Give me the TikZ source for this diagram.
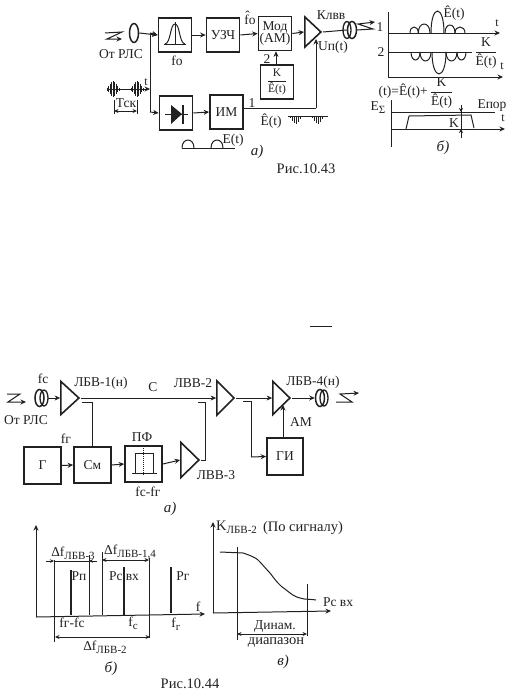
\documentclass[tikz,border=0pt]{standalone}
\usepackage{fontspec}
\setmainfont{Liberation Serif}
\usetikzlibrary{arrows.meta,shapes.geometric}
\definecolor{ink}{gray}{0.13}
\newcommand{\lsub}[1]{\raisebox{-3pt}{\fontsize{11}{12}\selectfont #1}}
\newcommand{\fracE}{$\displaystyle\frac{\mbox{K}}{\mbox{Ê(t)}}$}
\newcommand{\bumpup}[4]{\draw[thinl] (#1,#3) .. controls (#1,#3-1.33*#4) and (#2,#3-1.33*#4) .. (#2,#3);}
\newcommand{\bumpdn}[4]{\draw[thinl] (#1,#3) .. controls (#1,#3+1.33*#4) and (#2,#3+1.33*#4) .. (#2,#3);}
\newcommand{\burst}[2]{\foreach \d/\h in {-6/1.5,-4.5/3,-3/5,-1.5/7,0/8,1.5/7,3/5,4.5/3,6/1.5}{\draw[line width=.6pt,ink] (#1+\d,#2-\h) -- (#1+\d,#2+\h);}}
\tikzset{
  x=1pt,y=-1pt,
  blk/.style={draw=ink,line width=1.7pt,minimum width=33pt,minimum height=34pt,inner sep=0pt,font=\fontsize{13.5}{14}\selectfont,text=ink,align=center},
  thinl/.style={draw=ink,line width=1pt},
  arr/.style={thinl,-{Stealth[length=5.5pt,width=5pt]}},
  darr/.style={thinl,{Stealth[length=4.5pt,width=4pt]}-{Stealth[length=4.5pt,width=4pt]}},
  thick axis/.style={draw=ink,line width=1.8pt},
  amp/.style={draw=ink,fill=white,line width=1.6pt,isosceles triangle,isosceles triangle stretches,inner sep=0pt,minimum height=18pt,minimum width=33pt,anchor=apex,shape border rotate=0},
  ant/.style={draw=ink,line width=1.5pt,ellipse,minimum width=9pt,minimum height=19pt,inner sep=0pt},
  lab/.style={inner sep=0pt,font=\fontsize{13.5}{14}\selectfont,text=ink},
  biglab/.style={inner sep=0pt,font=\fontsize{14.5}{15}\selectfont,text=ink},
  slab/.style={inner sep=0pt,font=\fontsize{12}{13}\selectfont,text=ink},
  ital/.style={inner sep=0pt,font=\fontsize{15}{16}\selectfont\itshape,text=ink},
}
\begin{document}
\begin{tikzpicture}
\useasboundingbox (0,0) rectangle (518,696);
\fill[white] (0,0) rectangle (518,696);
% ---------- Fig 10.43 a
\node[blk] (bp) at (175,35) {};
\node[blk] (uz) at (223,35) {УЗЧ};
\node[blk] (mod) at (275,33.5) {Мод\\[-2pt](АМ)};
\node[blk,font=\fontsize{11.5}{12}\selectfont] (kb) at (277,82) {\fracE};
\node[blk] (dio) at (176,113) {};
\node[blk] (im) at (226.5,112) {ИМ};
\node[amp,minimum height=16pt,minimum width=30pt] (tr) at (323,32) {};
\node[ant] (a1) at (134,33) {};
\node[ant,minimum height=17pt] (a2) at (352,30) {};
\draw[thinl,line width=1.3pt] (347,30) ellipse (4pt and 8.5pt);
\coordinate (j1) at (150,33);
\coordinate (c1) at (150,112);
\draw[arr] (a1.east) -- (bp.west);
\draw[arr] (j1) -- (bp.west);
\draw[thinl] (j1) -- (c1);
\draw[arr] (c1) -- (dio.west);
\draw[arr] (bp.east) -- (uz.west);
\draw[arr] (uz.east) -- (mod.west);
\draw[arr] (mod.east) -- (tr.lower side);
\draw[thinl] (tr.apex) -- (a2.west);
\coordinate (kt) at (276,65);
\draw[arr] (kt) -- (kt |- mod.south);
\draw[arr] (dio.east) -- (im.west);
\coordinate (c2) at (316,108);
\coordinate (c3) at (316,39);
\draw[thinl] (im.east |- c2) -- (c2);
\draw[arr] (c2) -- (c3);
% band-pass icon
\draw[thinl] (164,44) -- (186,44);
\draw[thinl] (175,22) -- (175,44);
\draw[thinl] (165,44) .. controls (171,43) and (170,24) .. (175,24) .. controls (180,24) and (179,43) .. (185,44);
% diode icon
\draw[thinl] (165,114) -- (188,114);
\fill[ink] (171,105) -- (182,114) -- (171,124) -- cycle;
\draw[line width=1.6pt,ink] (183,105) -- (183,124);
% input signal
\coordinate (s0) at (107,89);
\coordinate (s1) at (150,89);
\draw[arr] (s0) -- (s1);
\burst{113}{89}
\burst{137}{89}
\coordinate (t1) at (114,111);
\coordinate (t2) at (137,111);
\draw[thinl] (114,100) -- (114,114);
\draw[thinl] (137,100) -- (137,114);
\draw[darr] (t1) -- (t2);
% zigzags
\draw[arr] (105,33) -- (122,32) -- (107,39) -- (122,39);
\draw[arr] (357,30) -- (373,29) -- (358,24) -- (375,22);
% output pulses
\draw[thinl] (288,116) -- (328,116);
\foreach \x/\h in {290/2,292/5,294/7,296/8,298/6,300/3,312/2,314/5,316/7,318/8,320/6,322/3}{\draw[line width=.6pt,ink] (\x,116) -- (\x,116+\h);}
% envelope
\draw[thinl] (182,148) -- (235,148);
\bumpup{182}{194}{148}{8}
\bumpup{211}{223}{148}{8}
\node[lab] (l1) at (121,54) {От РЛС};
\node[lab] (l2) at (177,61) {fо};
\node[lab] (l3) at (250,18) {f̂о};
\node[lab] (l4) at (331,15) {Клвв};
\node[lab] (l5) at (333,47) {Uп(t)};
\node[lab] (l6) at (267,59) {2};
\node[lab] (l7) at (252,103) {1};
\node[slab] (l8) at (146,82) {t};
\node[lab] (l9) at (126,103) {Тск};
\node[lab] (l10) at (271,121) {Ê(t)};
\node[lab] (l11) at (233,140) {E(t)};
\node[ital] (l12) at (257,152) {а)};
\node[biglab] (l13) at (306,169) {Рис.10.43};
% ---------- Fig 10.43 b
\coordinate (b0) at (388,12);
\coordinate (b1) at (388,78);
\draw[thinl] (b0) -- (b1);
\draw[arr] (388,33) -- (500,33);
\draw[thinl] (388,52) -- (472,52);
\draw[arr] (388,77) -- (503,77);
\bumpup{410}{418.3}{33}{6}
\bumpup{418.3}{430}{33}{9}
\bumpup{431}{444}{33}{22}
\bumpup{445}{455}{33}{8}
\bumpup{455}{465}{33}{6}
\bumpdn{411}{420}{52}{8}
\bumpdn{420}{431}{52}{9}
\bumpdn{432}{446}{52}{22}
\bumpdn{446}{457}{52}{9}
\bumpdn{457}{466}{52}{8}
\node[lab] (m1) at (380,27) {1};
\node[lab] (m2) at (381,52) {2};
\node[slab] (m3) at (497,23) {t};
\node[slab] (m4) at (502,66) {t};
\node[lab] (m5) at (454,13) {Ê(t)};
\node[lab] (m6) at (486,53) {\fracE};
\node[lab] (m7) at (416,93) {(t)=Ê(t)+\,\fracE};
\node[lab] (m8) at (378,108) {E\lsub{Σ}};
\draw[thinl] (391,100) -- (391,147);
\draw[arr] (391,129) -- (505,129);
\draw[thinl] (391,112) -- (495,112);
\draw[thinl] (406,129) -- (409,116) -- (471,115) -- (474,128);
\coordinate (k1) at (461,107);
\coordinate (k2) at (461,137);
\draw[thinl] (k1) -- (k2);
\draw[thinl,-{Stealth[length=4pt,width=4pt]}] (461,105) -- (461,112);
\draw[thinl,-{Stealth[length=4pt,width=4pt]}] (461,138) -- (461,129);
\node[lab] (m9) at (454,123) {K};
\node[lab] (m10) at (492,106) {Епор};
\node[slab] (m11) at (503,118) {t};
\node[ital] (m12) at (443,148) {б)};
% stray rule
\draw[line width=1pt,ink] (310,326) -- (332,326);
% ---------- Fig 10.44 a
\node[ant,minimum height=17pt] (c1a) at (39.5,398) {};
\draw[thinl,line width=1.3pt] (44,398) ellipse (4pt and 8pt);
\node[amp,minimum width=33pt] (t1a) at (81,398) {};
\node[amp,minimum height=17pt,minimum width=34pt] (t2a) at (236,398) {};
\node[amp,minimum height=17pt,minimum width=33pt] (t4a) at (292,398) {};
\node[amp,minimum height=18pt,minimum width=35pt] (t3a) at (201,460) {};
\node[ant,minimum height=17pt] (c2a) at (320,398) {};
\draw[thinl,line width=1.3pt] (324,398) ellipse (4pt and 8pt);
\node[blk,minimum width=37pt,minimum height=37pt] (g) at (42.5,465.5) {Г};
\node[blk,minimum width=37pt,minimum height=36pt] (sm) at (92.5,465) {См};
\node[blk,minimum width=37pt,minimum height=36pt] (pf) at (143.5,464) {};
\node[blk,minimum width=36pt,minimum height=37pt] (gi) at (285,456.5) {ГИ};
\coordinate (ao) at (48,398);
\draw[arr] (ao) -- (t1a.lower side);
\draw[arr] (t1a.apex) -- (t2a.lower side);
\draw[arr] (t2a.apex) -- (t4a.lower side);
\draw[arr] (t4a.apex) -- (c2a.west);
\draw[arr] (g.east) -- (sm.west);
\draw[arr] (sm.east) -- (pf.west);
\draw[arr] (pf.east) -- (t3a.lower side);
\coordinate (e1) at (82,402);
\coordinate (e2) at (92,402);
\draw[thinl] (sm.north -| e2) -- (e2) -- (e1);
\coordinate (e3) at (205,460);
\coordinate (e4) at (205,402);
\coordinate (e5) at (198,402);
\draw[thinl] (t3a.apex) -- (e3) -- (e4) -- (e5);
\coordinate (e6) at (243,401);
\coordinate (e7) at (251,401);
\coordinate (e8) at (251,457);
\draw[thinl] (e6) -- (e7) -- (e8);
\draw[arr] (e8) -- (gi.west);
\coordinate (e9) at (283,405);
\draw[arr] (gi.north -| e9) -- (e9);
% filter icon
\draw[thinl] (135,473) -- (135,453) -- (153,453) -- (153,473);
\draw[thinl] (132,473) -- (157,473);
\draw[thinl,densely dotted] (143,448) -- (143,475);
% zigzags
\draw[arr] (7,394) -- (20,394) -- (8,402) -- (26,402);
\draw[arr] (336,402) -- (352,402) -- (340,394) -- (359,393);
\node[lab] (n1) at (43,379) {fс};
\node[lab] (n2) at (101,383) {ЛБВ-1(н)};
\node[lab] (n3) at (153,387) {С};
\node[lab] (n4) at (193,383) {ЛВВ-2};
\node[lab] (n5) at (313,382) {ЛБВ-4(н)};
\node[lab] (n6) at (26,420) {От РЛС};
\node[lab] (n7) at (66,439) {fг};
\node[lab] (n8) at (142,437) {ПФ};
\node[lab] (n9) at (301,422) {АМ};
\node[lab] (n10) at (216,475) {ЛВВ-3};
\node[lab] (n11) at (148,492) {fс-fг};
\node[ital] (n12) at (170,509) {а)};
% ---------- Fig 10.44 b
\coordinate (o1) at (36,617);
\draw[arr] (o1) -- (36,525);
\draw[arr] (o1) -- (205,614);
\draw[thinl] (54,560) -- (54,642);
\draw[thinl] (89,555) -- (89,615);
\draw[thinl] (102,552) -- (102,615);
\draw[thinl] (149,558) -- (149,638);
\draw[thick axis] (71,570) -- (71,615);
\draw[thick axis] (124,567) -- (124,615);
\draw[thick axis] (171,567) -- (171,613);
\draw[thinl,-{Stealth[length=4pt,width=3.5pt]}] (46,561) -- (54,561);
\draw[thinl] (54,561) -- (89,561);
\draw[thinl,-{Stealth[length=4pt,width=3.5pt]}] (97,561) -- (89,561);
\draw[darr] (102,560) -- (149,560);
\draw[darr] (55,637) -- (150,637);
\node[lab] (p1) at (73,553) {Δf\lsub{ЛБВ-3}};
\node[lab,anchor=west] (p2) at (104,552) {Δf\lsub{ЛБВ-1,4}};
\node[lab] (p3) at (79,576) {Рп};
\node[lab] (p4) at (124,576) {Рс вх};
\node[lab] (p5) at (183,576) {Рг};
\node[lab] (p6) at (198,607) {f};
\node[lab] (p7) at (72,623) {fг-fс};
\node[lab] (p8) at (133,623) {f\lsub{с}};
\node[lab] (p9) at (176,624) {f\lsub{г}};
\node[lab] (p10) at (105,647) {Δf\lsub{ЛБВ-2}};
\node[ital] (p11) at (111,669) {б)};
\node[biglab] (p12) at (190,684) {Рис.10.44};
% ---------- Fig 10.44 c
\coordinate (o2) at (213,613);
\draw[arr] (o2) -- (213,522);
\draw[arr] (o2) -- (331,611);
\draw[thinl] (237,547) -- (237,640);
\draw[thinl] (307,584) -- (307,636);
\draw[thinl] (220,552) -- (243,553) .. controls (252,556) and (256,558) .. (258,560) .. controls (264,566) and (266,569) .. (270,573) .. controls (276,581) and (280,586) .. (285,589) .. controls (291,594) and (295,597) .. (300,598) .. controls (306,600) and (312,599) .. (316,600);
\draw[darr] (237,634) -- (307,634);
\node[biglab,anchor=west] (q1) at (216,527) {K\lsub{ЛБВ-2}};
\node[biglab] (q2) at (303,528) {(По сигналу)};
\node[lab] (q3) at (338,602) {Рс вх};
\node[lab] (q4) at (275,627) {Динам.};
\node[biglab] (q5) at (276,642) {диапазон};
\node[ital] (q6) at (283,662) {в)};
\end{tikzpicture}
\end{document}
